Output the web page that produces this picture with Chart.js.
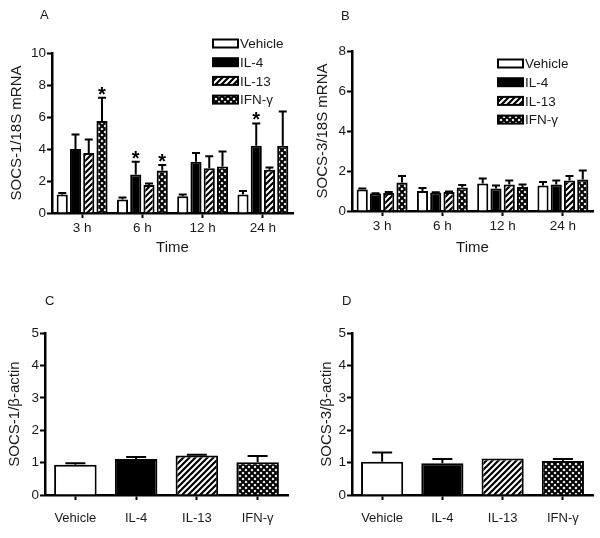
<!DOCTYPE html>
<html>
<head>
<meta charset="utf-8">
<script src="https://cdn.jsdelivr.net/npm/chart.js@4.4.1/dist/chart.umd.min.js"></script>
<style>
  body { margin: 0; background: #fff; }
  #wrap { position: relative; width: 600px; height: 538px; }
  canvas { position: absolute; }
</style>
</head>
<body>
<div id="wrap">
  <canvas id="cA" width="300" height="269" style="left:0;top:0"></canvas>
  <canvas id="cB" width="300" height="269" style="left:300px;top:0"></canvas>
  <canvas id="cC" width="300" height="269" style="left:0;top:269px"></canvas>
  <canvas id="cD" width="300" height="269" style="left:300px;top:269px"></canvas>
</div>
<script>
// time course panels (A, B)
const timeLabels = ["3 h", "6 h", "12 h", "24 h"];
const treatments = ["Vehicle", "IL-4", "IL-13", "IFN-\u03b3"];

// SOCS-1/18S mRNA, mean per treatment at each time
const socs1Vehicle = [1.15, 0.85, 1.05, 1.15];
const socs1IL4     = [4.0, 2.4, 3.2, 4.2];
const socs1IL13    = [3.75, 1.75, 2.8, 2.7];
const socs1IFN     = [5.75, 2.65, 2.9, 4.2];
// upper error (SEM)
const socs1VehicleErr = [0.1, 0.12, 0.1, 0.22];
const socs1IL4Err     = [0.9, 0.8, 0.55, 1.4];
const socs1IL13Err    = [0.85, 0.1, 0.75, 0.15];
const socs1IFNErr     = [1.45, 0.35, 0.95, 2.15];
// significance marks
const socs1VehicleSig = [false, false, false, false];
const socs1IL4Sig     = [false, true, false, true];
const socs1IL13Sig    = [false, false, false, false];
const socs1IFNSig     = [true, true, false, false];

// SOCS-3/18S mRNA
const socs3Vehicle = [1.07, 1.0, 1.37, 1.28];
const socs3IL4     = [0.87, 0.92, 1.12, 1.32];
const socs3IL13    = [0.9, 0.95, 1.33, 1.53];
const socs3IFN     = [1.42, 1.17, 1.2, 1.58];
const socs3VehicleErr = [0.05, 0.15, 0.25, 0.17];
const socs3IL4Err     = [0.02, 0.02, 0.16, 0.21];
const socs3IL13Err    = [0.05, 0.03, 0.2, 0.22];
const socs3IFNErr     = [0.33, 0.13, 0.13, 0.45];

// protein panels (C, D)
const socs1Actin    = [0.93, 1.11, 1.22, 1.01];
const socs1ActinErr = [0.05, 0.06, 0.02, 0.19];
const socs3Actin    = [1.03, 0.98, 1.13, 1.05];
const socs3ActinErr = [0.28, 0.13, 0.0, 0.06];

const FONT = "'Liberation Sans', Arial, sans-serif";
const INK = "#1a1a1a";

function stripePattern() {
  const c = document.createElement("canvas");
  c.width = 6; c.height = 6;
  const g = c.getContext("2d");
  g.fillStyle = "#fff"; g.fillRect(0, 0, 6, 6);
  g.strokeStyle = "#000"; g.lineWidth = 2.2;
  g.beginPath();
  g.moveTo(-1, 7); g.lineTo(7, -1);
  g.moveTo(-1, 1); g.lineTo(1, -1);
  g.moveTo(5, 7); g.lineTo(7, 5);
  g.stroke();
  return g.createPattern(c, "repeat");
}

function crossPattern() {
  const c = document.createElement("canvas");
  c.width = 6; c.height = 6;
  const g = c.getContext("2d");
  g.fillStyle = "#fff"; g.fillRect(0, 0, 6, 6);
  g.strokeStyle = "#000"; g.lineWidth = 2.1;
  g.beginPath();
  g.moveTo(-1, 7); g.lineTo(7, -1);
  g.moveTo(-1, -1); g.lineTo(7, 7);
  g.stroke();
  return g.createPattern(c, "repeat");
}

const fills = ["#fff", "#000", stripePattern(), crossPattern()];

// upper error bars + stars
const errorBars = {
  id: "errorBars",
  afterDatasetsDraw(chart, args, opts) {
    const { ctx } = chart;
    const y = chart.scales.y;
    ctx.save();
    ctx.strokeStyle = "#000";
    ctx.lineWidth = 2;
    chart.data.datasets.forEach((ds, di) => {
      const meta = chart.getDatasetMeta(di);
      meta.data.forEach((bar, i) => {
        const e = ds.err[i];
        const top = y.getPixelForValue(ds.data[i] + e);
        if (e > 0) {
          ctx.beginPath();
          ctx.moveTo(bar.x, bar.y);
          ctx.lineTo(bar.x, top);
          ctx.moveTo(bar.x - opts.cap / 2, top);
          ctx.lineTo(bar.x + opts.cap / 2, top);
          ctx.stroke();
        }
        if (ds.sig && ds.sig[i]) {
          ctx.fillStyle = "#000";
          ctx.font = "bold 20px " + FONT;
          ctx.textAlign = "center";
          ctx.textBaseline = "alphabetic";
          ctx.fillText("*", bar.x, top + 3);
        }
      });
    });
    ctx.restore();
  }
};

// panel letter and boxed legend
const decor = {
  id: "decor",
  afterDraw(chart, args, opts) {
    const { ctx } = chart;
    ctx.save();
    ctx.fillStyle = INK;
    ctx.font = "13px " + FONT;
    ctx.textBaseline = "middle";
    ctx.fillText(opts.letter, opts.letterX, opts.letterY);
    if (opts.legend) {
      const L = opts.legend;
      treatments.forEach((name, i) => {
        const cy = L.y + i * L.step;
        ctx.fillStyle = fills[i];
        ctx.fillRect(L.x, cy - 4, 25, 8);
        ctx.strokeStyle = "#000";
        ctx.lineWidth = 2;
        ctx.strokeRect(L.x, cy - 4, 25, 8);
        ctx.fillStyle = INK;
        ctx.font = "13.5px " + FONT;
        ctx.fillText(name, L.x + 27, cy + 1);
      });
    }
    ctx.restore();
  }
};

function makeChart(id, cfg) {
  const yScale = {
    min: 0, max: cfg.max,
    ticks: { stepSize: cfg.step, color: INK, font: { family: FONT, size: 13.5 }, padding: 1 },
    grid: { drawOnChartArea: false, tickLength: 5, tickWidth: 2, tickColor: "#000" },
    border: { color: "#000", width: 2.5 },
    title: { display: true, text: cfg.yTitle, color: INK, font: { family: FONT, size: 15 }, padding: { top: cfg.yTitlePad, bottom: 0 } },
    afterFit(s) { s.width = cfg.left; }
  };
  const xScale = {
    ticks: { color: INK, font: { family: FONT, size: cfg.xFont }, padding: cfg.xPad },
    grid: { offset: false, drawOnChartArea: false, tickLength: 5, tickWidth: 2, tickColor: "#000" },
    border: { color: "#000", width: 2.5 },
    title: { display: !!cfg.xTitle, text: cfg.xTitle || "", color: INK, font: { family: FONT, size: 15 }, padding: { top: 0, bottom: 12 } },
    afterFit(s) { s.height = 269 - cfg.bottom; }
  };
  return new Chart(document.getElementById(id), {
    type: "bar",
    data: { labels: cfg.labels, datasets: cfg.datasets },
    options: {
      responsive: false,
      animation: false,
      layout: { padding: { left: 0, right: 300 - cfg.right, top: cfg.top, bottom: 0 } },
      scales: { x: xScale, y: yScale },
      plugins: {
        legend: { display: false },
        tooltip: { enabled: false },
        errorBars: { cap: cfg.cap },
        decor: cfg.decor
      }
    },
    plugins: [errorBars, decor]
  });
}

function timeDatasets(vals, errs, sigs) {
  return treatments.map((t, i) => ({
    label: t,
    data: vals[i],
    err: errs[i],
    sig: sigs ? sigs[i] : null,
    backgroundColor: fills[i],
    borderColor: "#000",
    borderWidth: 2,
    borderSkipped: "bottom",
    categoryPercentage: 0.88,
    barPercentage: 0.84
  }));
}

makeChart("cA", {
  labels: timeLabels, max: 10, step: 2, yTitle: "SOCS-1/18S mRNA", xTitle: "Time",
  left: 52, right: 293, top: 53, bottom: 213, cap: 8, xFont: 13.5, xPad: 2, yTitlePad: 8,
  datasets: timeDatasets(
    [socs1Vehicle, socs1IL4, socs1IL13, socs1IFN],
    [socs1VehicleErr, socs1IL4Err, socs1IL13Err, socs1IFNErr],
    [socs1VehicleSig, socs1IL4Sig, socs1IL13Sig, socs1IFNSig]),
  decor: { letter: "A", letterX: 40, letterY: 15, legend: { x: 213, y: 43.5, step: 18.7 } }
});

makeChart("cB", {
  labels: timeLabels, max: 8, step: 2, yTitle: "SOCS-3/18S mRNA", xTitle: "Time",
  left: 52, right: 293, top: 51, bottom: 211, cap: 8, xFont: 13.5, xPad: 2, yTitlePad: 14,
  datasets: timeDatasets(
    [socs3Vehicle, socs3IL4, socs3IL13, socs3IFN],
    [socs3VehicleErr, socs3IL4Err, socs3IL13Err, socs3IFNErr],
    null),
  decor: { letter: "B", letterX: 41, letterY: 16, legend: { x: 198, y: 63.5, step: 18.7 } }
});

function singleDataset(vals, errs) {
  return [{
    label: "value",
    data: vals,
    err: errs,
    backgroundColor: fills,
    borderColor: "#000",
    borderWidth: 2,
    borderSkipped: "bottom",
    categoryPercentage: 1,
    barPercentage: 0.7
  }];
}

makeChart("cC", {
  labels: treatments, max: 5, step: 1, yTitle: "SOCS-1/\u03b2-actin",
  left: 45, right: 288, top: 64, bottom: 226, cap: 20, xFont: 13, xPad: 11, yTitlePad: 6,
  datasets: singleDataset(socs1Actin, socs1ActinErr),
  decor: { letter: "C", letterX: 45, letterY: 32 }
});

makeChart("cD", {
  labels: treatments, max: 5, step: 1, yTitle: "SOCS-3/\u03b2-actin",
  left: 52, right: 293, top: 64, bottom: 226, cap: 20, xFont: 13, xPad: 11, yTitlePad: 18,
  datasets: singleDataset(socs3Actin, socs3ActinErr),
  decor: { letter: "D", letterX: 42, letterY: 32 }
});
</script>
</body>
</html>
